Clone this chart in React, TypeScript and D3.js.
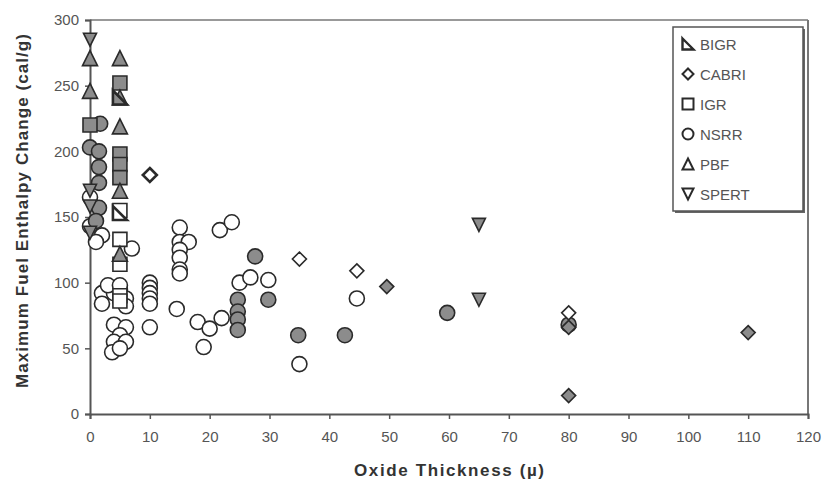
import React, { useEffect, useRef } from 'react';
import * as d3 from 'd3';

// [oxide thickness (µ), max fuel enthalpy change (cal/g)]
const bigrOpen = [[5, 153]];
const bigrFilled = [[5, 241]];
const cabriOpen = [[10, 182], [35, 118], [44.6, 109], [80, 77]];
const cabriFilled = [[49.6, 97], [80, 66], [80, 14], [110, 62]];
const igrOpen = [[5, 155], [5, 133], [5, 114], [5, 90], [5, 86]];
const igrFilled = [[5, 252], [0, 220], [5, 198], [5, 190], [5, 180]];
const nsrrOpen = [
  [0, 165], [0, 143], [2, 136], [1, 131], [7, 126], [2, 92], [2, 84], [4, 92],
  [6, 88], [6, 82], [5, 95], [3, 98], [5, 98], [10, 100], [10, 96], [10, 92],
  [10, 88], [10, 84], [10, 66], [4, 68], [6, 66], [5, 60], [4, 55], [6, 55],
  [3.7, 47], [5, 50], [15, 142], [15, 131], [16.5, 131], [15, 125], [15, 119],
  [15, 110], [15, 107], [14.5, 80], [18, 70], [19, 51], [20, 65], [22, 73],
  [21.7, 140], [23.7, 146], [25, 100], [26.8, 104], [29.8, 102], [35, 38], [44.6, 88],
];
const nsrrFilled = [
  [1.7, 221], [0, 203], [1.5, 200], [1.5, 188], [1.5, 176], [1.5, 157], [1, 147],
  [27.6, 120], [29.8, 87], [24.7, 87], [24.7, 78], [24.7, 72], [24.7, 64],
  [34.8, 60], [42.6, 60], [59.7, 77], [80, 68],
];
const pbfFilled = [[0, 271], [0, 246], [5, 271], [5, 241], [5, 219], [5, 170], [5, 122]];
const spertFilled = [[0, 285], [0, 170], [0, 158], [0, 138], [65, 144], [65, 87]];

const xTicks = d3.range(0, 121, 10);
const yTicks = d3.range(0, 301, 50);
const legendNames = ['BIGR', 'CABRI', 'IGR', 'NSRR', 'PBF', 'SPERT'];

const GRAY = '#8c8c8c';
const DARK = '#2a2a2a';
const FONT = 'Liberation Sans, Arial, sans-serif';

function shapePath(kind: string, s: number) {
  const h = s / 2;
  switch (kind) {
    case 'circle':
      return `M${-h},0a${h},${h} 0 1,0 ${s},0a${h},${h} 0 1,0 ${-s},0Z`;
    case 'square':
      return `M${-h},${-h}h${s}v${s}h${-s}Z`;
    case 'diamond':
      return `M0,${-h}L${h},0L0,${h}L${-h},0Z`;
    case 'up':
      return `M0,${-h}L${h},${h}L${-h},${h}Z`;
    case 'down':
      return `M${-h},${-h}L${h},${-h}L0,${h}Z`;
    case 'right':
      return `M${-h},${-h}L${h},${h}L${-h},${h}Z`;
  }
  return '';
}

const kindOf: Record<string, string> = {
  BIGR: 'right', CABRI: 'diamond', IGR: 'square', NSRR: 'circle', PBF: 'up', SPERT: 'down',
};
const sizeOf: Record<string, number> = {
  BIGR: 14, CABRI: 14, IGR: 14, NSRR: 15, PBF: 15, SPERT: 13,
};

export default function App() {
  const width = 825;
  const height = 492;
  const x = d3.scaleLinear().domain([0, 120]).range([90, 808]);
  const y = d3.scaleLinear().domain([0, 300]).range([414, 20]);
  const axisX = useRef<SVGGElement>(null);
  const axisY = useRef<SVGGElement>(null);

  useEffect(() => {
    const ax = d3.select(axisX.current!);
    ax.call(d3.axisBottom(x).tickValues(xTicks).tickSize(5).tickPadding(12));
    const ay = d3.select(axisY.current!);
    ay.call(d3.axisLeft(y).tickValues(yTicks).tickSize(5).tickPadding(6));
    [ax, ay].forEach(a => {
      a.select('.domain').attr('stroke', '#555').attr('stroke-width', 2);
      a.selectAll('.tick line').attr('stroke', '#555').attr('stroke-width', 1.5);
      a.selectAll('.tick text')
        .attr('fill', '#555')
        .style('font-size', '15px')
        .style('font-family', FONT);
    });
  });

  const layers: [string, number[][], boolean][] = [
    ['NSRR', nsrrOpen, false],
    ['NSRR', nsrrFilled, true],
    ['IGR', igrOpen, false],
    ['IGR', igrFilled, true],
    ['CABRI', cabriOpen, false],
    ['CABRI', cabriFilled, true],
    ['PBF', pbfFilled, true],
    ['SPERT', spertFilled, true],
    ['BIGR', bigrOpen, false],
    ['BIGR', bigrFilled, true],
  ];

  return (
    <svg width={width} height={height} viewBox={`0 0 ${width} ${height}`}
      style={{ position: 'absolute', left: 0, top: 0, background: '#fff' }}>
      <rect width={width} height={height} fill="#fff" />
      <line x1={x(0)} x2={x(120)} y1={y(300)} y2={y(300)} stroke="#999" strokeWidth={2} />
      <line x1={x(120)} x2={x(120)} y1={y(300)} y2={y(0)} stroke="#777" strokeWidth={2} />
      <g ref={axisX} transform={`translate(0,${y(0)})`} />
      <g ref={axisY} transform={`translate(${x(0)},0)`} />

      {layers.map(([name, pts, filled], li) => (
        <g key={li}>
          {pts.map((p, i) => (
            <path key={i}
              d={shapePath(kindOf[name], sizeOf[name])}
              transform={`translate(${x(p[0])},${y(p[1])})`}
              fill={filled ? GRAY : '#fff'}
              stroke={DARK}
              strokeWidth={name === 'BIGR' || (name === 'CABRI' && p[0] === 10) ? 2.6 : 1.6} />
          ))}
        </g>
      ))}

      {/* legend */}
      <rect x={675} y={29} width={130} height={184} fill="#666" />
      <rect x={673} y={27} width={130} height={184} fill="#fff" stroke="#555" strokeWidth={1.5} />
      {legendNames.map((n, i) => (
        <g key={n} transform={`translate(688,${44 + i * 30})`}>
          <path d={shapePath(kindOf[n], 11)} fill="#fff" stroke={DARK}
            strokeWidth={n === 'BIGR' ? 2.4 : 2} />
          <text x={12} y={5.5} fill="#555" fontSize={15} fontFamily={FONT}>{n}</text>
        </g>
      ))}

      <text x={449} y={476} textAnchor="middle" fontSize={17} fontWeight="bold" fill="#333"
        fontFamily={FONT} textLength={190} lengthAdjust="spacing">
        Oxide Thickness (µ)
      </text>
      <text transform="translate(28,211) rotate(-90)" textAnchor="middle" fontSize={17}
        fontWeight="bold" fill="#333" fontFamily={FONT}
        textLength={354} lengthAdjust="spacing">
        Maximum Fuel Enthalpy Change (cal/g)
      </text>
    </svg>
  );
}
